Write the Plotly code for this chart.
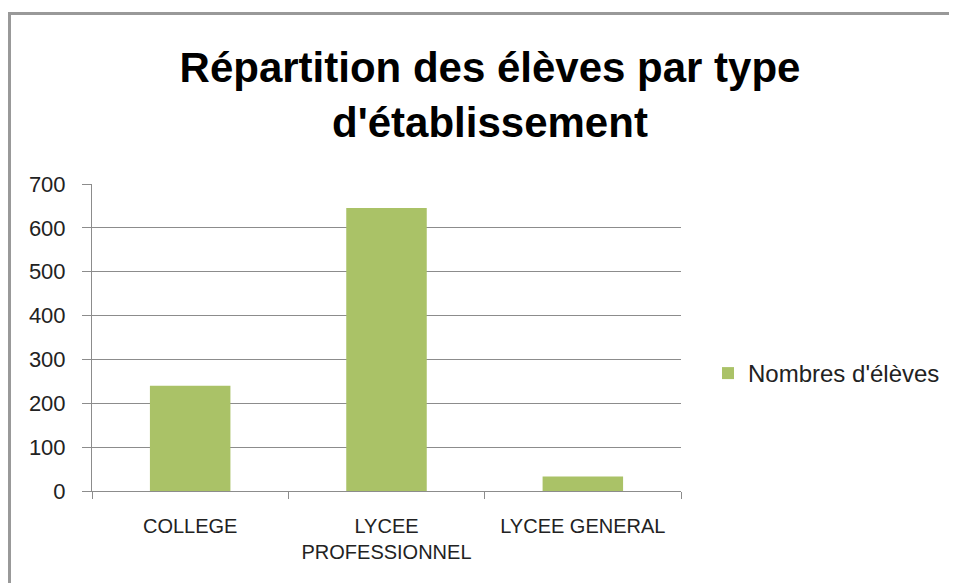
import plotly.graph_objects as go

categories = ["COLLEGE", "LYCEE PROFESSIONNEL", "LYCEE GENERAL"]
tick_labels = ["COLLEGE", "LYCEE<br>PROFESSIONNEL", "LYCEE GENERAL"]
nombres_eleves = [240, 645, 33]
series_name = "Nombres d'élèves"
title_text = "Répartition des élèves par type<br>d'établissement"

# page has an 8px body margin: figure coords = page coords - 8
W, H = 949, 575
L, T = 84, 176
R, B = W - 673, H - 483
pw, ph = W - L - R, H - T - B

fig = go.Figure()
fig.add_trace(go.Bar(
    x=categories, y=nombres_eleves, name=series_name,
    marker=dict(color="#AAC267", line=dict(width=0)),
    showlegend=True,
))

axis_col = "#8C8C8C"
font_fam = "Liberation Sans, Arial, sans-serif"

fig.update_layout(
    width=W, height=H,
    margin=dict(l=L, r=R, t=T, b=B, autoexpand=False),
    paper_bgcolor="white", plot_bgcolor="white",
    bargap=0.59,
    title=dict(text=title_text, x=482 / W, xanchor="center",
               y=1 - 74 / H, yanchor="middle",
               font=dict(family=font_fam, size=42, color="black", weight="bold")),
    font=dict(family=font_fam, color="#222222"),
    legend=dict(x=(700 - L) / pw, xanchor="left", y=(483 - 365.5) / ph, yanchor="middle",
                font=dict(size=24, color="#222222"), itemwidth=30,
                bgcolor="rgba(0,0,0,0)"),
    xaxis=dict(
        tickmode="array", tickvals=categories, ticktext=tick_labels,
        tickson="boundaries", ticks="outside", ticklen=7, tickcolor=axis_col,
        showline=True, linecolor=axis_col, linewidth=1,
        showgrid=False, tickfont=dict(size=20, color="#222222"),
        ticklabelstandoff=17, fixedrange=True,
    ),
    yaxis=dict(
        range=[0, 700], dtick=100, tick0=0,
        ticks="outside", ticklen=9, tickcolor=axis_col,
        showline=True, linecolor=axis_col, linewidth=1,
        showgrid=True, gridcolor=axis_col, gridwidth=1,
        zeroline=False, tickfont=dict(size=22, color="#222222"),
        ticklabelstandoff=12, fixedrange=True,
    ),
    shapes=[dict(type="rect", xref="paper", yref="paper",
                 x0=(1.5 - L) / pw, x1=(W + 20 - L) / pw,
                 y0=-(H + 20 - T - ph) / ph, y1=(T + ph - 5.5) / ph,
                 line=dict(color="#999999", width=3), fillcolor="rgba(0,0,0,0)",
                 layer="below")],
)

fig.write_html("out.html")
